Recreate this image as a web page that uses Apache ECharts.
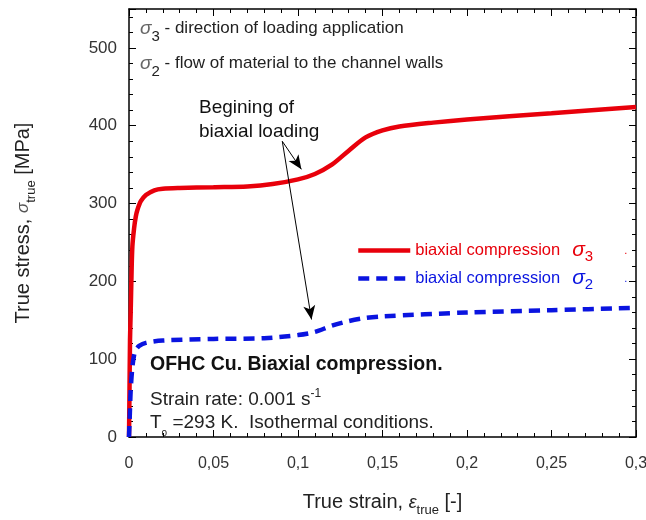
<!DOCTYPE html>
<html>
<head>
<meta charset="utf-8">
<script src="https://cdn.jsdelivr.net/npm/echarts@6/dist/echarts.min.js"></script>
<style>
  html, body { margin: 0; padding: 0; background: #fff; }
  #chart { width: 646px; height: 520px; }
</style>
</head>
<body>
<div id="chart"></div>
<script>
// strain (-) / stress (MPa)
var sigma3Data = [
  [0, 0], [0.0003, 60], [0.0006, 125], [0.001, 160], [0.0015, 210], [0.002, 245],
  [0.003, 268], [0.004, 283], [0.005, 292], [0.007, 303], [0.01, 311],
  [0.015, 317], [0.02, 319], [0.03, 320], [0.05, 321], [0.07, 322],
  [0.085, 325], [0.1, 331], [0.11, 338], [0.12, 350], [0.13, 368],
  [0.14, 385], [0.15, 394], [0.16, 399], [0.18, 404], [0.2, 408],
  [0.25, 416], [0.3, 424]
];
var sigma2Data = [
  [0, 0], [0.0005, 30], [0.001, 60], [0.002, 90], [0.003, 105], [0.004, 112],
  [0.006, 117], [0.01, 121], [0.02, 124], [0.05, 126], [0.08, 127],
  [0.1, 131], [0.11, 135], [0.12, 143], [0.13, 149], [0.14, 153],
  [0.15, 155], [0.2, 160], [0.25, 163], [0.3, 166]
];
var seriesNames = ['biaxial compression σ3', 'biaxial compression σ2'];
// annotation arrows: from text to the start of biaxial loading
var arrowFrom = [0.0907, 380];
var arrowTips = [[0.102, 344], [0.108, 151]];

var font = 'Liberation Sans, Arial, sans-serif';
var red = '#e8000b';
var blue = '#0a14e0';
var chart = echarts.init(document.getElementById('chart'));

function xFmt(v) {
  return String(+v.toFixed(2)).replace('.', ',');
}

function axisCommon() {
  return {
    axisLine: { onZero: false, lineStyle: { color: '#000', width: 1.5 } },
    axisTick: { inside: true, length: 7, lineStyle: { color: '#000' } },
    minorTick: { show: true, splitNumber: 5, length: 4, lineStyle: { color: '#000' } },
    splitLine: { show: false }
  };
}

function legendRich(c, k) {
  var r = {};
  r['t' + k] = { color: c, fontFamily: font, fontSize: 16.5 };
  r['s' + k] = { color: c, fontFamily: font, fontSize: 21, fontStyle: 'italic', padding: [0, 0, 0, 12] };
  r['b' + k] = { color: c, fontFamily: font, fontSize: 15, padding: [12, 0, 0, 0] };
  r['d' + k] = { color: c, fontFamily: font, fontSize: 11, padding: [0, 0, 0, 31] };
  return r;
}

chart.setOption({
  animation: false,
  backgroundColor: '#fff',
  grid: { left: 129, right: 10, top: 9, bottom: 83, outerBoundsMode: 'none' },
  xAxis: [
    Object.assign({
      type: 'value', min: 0, max: 0.3, interval: 0.05, position: 'bottom',
      name: 'True strain, {e|ε}{sub|true} [-]',
      nameLocation: 'middle', nameGap: 51,
      nameTextStyle: {
        fontFamily: font, fontSize: 20, color: '#222',
        rich: {
          e: { fontFamily: font, fontSize: 18, fontStyle: 'italic', color: '#222' },
          sub: { fontFamily: font, fontSize: 13, color: '#222', padding: [16, 0, 0, 0] }
        }
      },
      axisLabel: { fontFamily: font, fontSize: 16, color: '#333', margin: 19, formatter: xFmt }
    }, axisCommon()),
    Object.assign({
      type: 'value', min: 0, max: 0.3, interval: 0.05, position: 'top',
      axisLabel: { show: false }
    }, axisCommon())
  ],
  yAxis: [
    Object.assign({
      type: 'value', min: 0, max: 550, interval: 100, position: 'left',
      name: 'True stress, {s|σ}{sub|true} [MPa]',
      nameLocation: 'middle', nameGap: 91, nameRotate: 90,
      nameTextStyle: {
        fontFamily: font, fontSize: 20, color: '#222',
        rich: {
          s: { fontFamily: font, fontSize: 17, fontStyle: 'italic', color: '#555' },
          sub: { fontFamily: font, fontSize: 13, color: '#222', padding: [16, 0, 0, 0] }
        }
      },
      axisLabel: {
        fontFamily: font, fontSize: 17, color: '#333', margin: 12,
        formatter: function (v) { return v > 500 ? '' : String(v); }
      }
    }, axisCommon()),
    Object.assign({
      type: 'value', min: 0, max: 550, interval: 100, position: 'right',
      axisLabel: { show: false }
    }, axisCommon())
  ],
  legend: {
    orient: 'vertical', left: 351, top: 235, itemWidth: 52, itemHeight: 14, itemGap: 4,
    itemStyle: { opacity: 0 },
    lineStyle: { width: 4.5 },
    textStyle: { rich: Object.assign({}, legendRich(red, 'R'), legendRich(blue, 'B')) },
    formatter: function (name) {
      var idx = name.slice(-1);
      var k = idx === '3' ? 'R' : 'B';
      return '{t' + k + '|biaxial compression}{s' + k + '|σ}{b' + k + '|' + idx + '}{d' + k + '|.}';
    },
    data: seriesNames
  },
  series: [
    {
      name: seriesNames[0], type: 'line', data: sigma3Data, symbol: 'none', smooth: 0.3,
      lineStyle: { color: red, width: 4.5 }, itemStyle: { color: red },
      markLine: {
        silent: true, symbol: ['none', 'arrow'], symbolSize: [9, 14],
        lineStyle: { color: '#000', width: 1, type: 'solid' },
        label: { show: false },
        data: arrowTips.map(function (t) {
          return [{ coord: arrowFrom }, { coord: t }];
        })
      }
    },
    {
      name: seriesNames[1], type: 'line', data: sigma2Data, symbol: 'none', smooth: 0.3,
      lineStyle: { color: blue, width: 4.5, type: [11, 7] }, itemStyle: { color: blue }
    }
  ],
  graphic: [
    { type: 'text', left: 140, top: 19, style: {
      text: '{s|σ}{sub|3} - direction of loading application', fill: '#222',
      font: '17px ' + font,
      rich: { s: { fontSize: 19, fontStyle: 'italic', fill: '#666' }, sub: { fontSize: 15, padding: [17, 0, 0, 0] } }
    } },
    { type: 'text', left: 140, top: 54, style: {
      text: '{s|σ}{sub|2} - flow of material to the channel walls', fill: '#222',
      font: '17px ' + font,
      rich: { s: { fontSize: 19, fontStyle: 'italic', fill: '#666' }, sub: { fontSize: 15, padding: [17, 0, 0, 0] } }
    } },
    { type: 'text', left: 199, top: 96, style: {
      text: 'Begining of\nbiaxial loading', fill: '#111', font: '19px ' + font, lineHeight: 24
    } },
    { type: 'text', left: 150, top: 355, style: {
      text: 'OFHC Cu. Biaxial compression.', fill: '#111', font: 'bold 19.5px ' + font
    } },
    { type: 'text', left: 150, top: 388, style: {
      text: 'Strain rate: 0.001 s{sup|-1}', fill: '#222', font: '19px ' + font,
      rich: { sup: { fontSize: 12, padding: [0, 0, 12, 0] } }
    } },
    { type: 'text', left: 150, top: 413, style: {
      text: 'T{sub|o} =293 K.  Isothermal conditions.', fill: '#222', font: '19px ' + font,
      rich: { sub: { fontSize: 10, padding: [22, 0, 0, 0] } }
    } }
  ]
});
</script>
</body>
</html>
